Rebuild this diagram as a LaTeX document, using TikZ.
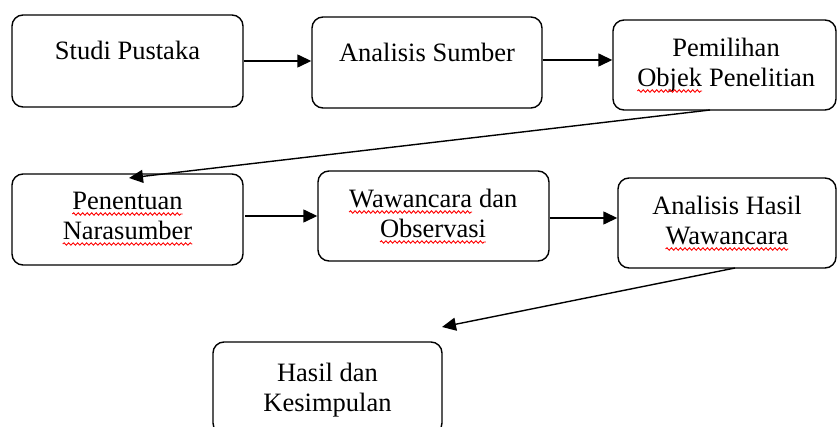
\documentclass[tikz,border=0pt]{standalone}
\usepackage{fontspec}
\setmainfont{Liberation Serif}
\usetikzlibrary{arrows.meta,decorations.pathmorphing}
\newcommand\spl[1]{\tikz[baseline=(sw.base)]{\node[inner sep=0pt,outer sep=0pt] (sw) {#1};
  \draw[red, line width=0.9pt, decorate, decoration={snake, amplitude=1.2pt, segment length=4.5pt}] ([yshift=-4pt]sw.base west) -- ([yshift=-4pt]sw.base east);}}
\tikzset{
  box/.style={draw, line width=1.4pt, rounded corners=11pt, inner sep=0pt},
  txt/.style={inner sep=0pt, anchor=base, font=\fontsize{26.5}{30}\selectfont},
  conn/.style={line width=1.4pt, -{Triangle[length=14pt,width=13pt]}}
}
\begin{document}
\begin{tikzpicture}[x=1pt,y=-1pt]
\clip (0,0) rectangle (838,427);
% boxes
\node[box, minimum width=231, minimum height=92] (b1) at (127.5,61) {};
\node[box, minimum width=230, minimum height=91] (b2) at (427,62.5) {};
\node[box, minimum width=223, minimum height=90] (b3) at (724.5,65) {};
\node[box, minimum width=231, minimum height=91] (b4) at (127.5,219.5) {};
\node[box, minimum width=231, minimum height=90] (b5) at (433.5,216) {};
\node[box, minimum width=218, minimum height=90] (b6) at (727,223) {};
\node[box, minimum width=229, minimum height=92] (b7) at (327.5,388) {};
% texts
\node[txt] (t1) at (127.5,60) {Studi Pustaka};
\node[txt] (t2) at (427,62) {Analisis Sumber};
\node[txt] (t3a) at (726,57) {Pemilihan};
\node[txt] (t3b) at (726,87) {\spl{Objek} Penelitian};
\node[txt] (t4a) at (127.5,210) {\spl{Penentuan}};
\node[txt] (t4b) at (127.5,240) {\spl{Narasumber}};
\node[txt] (t5a) at (433,208) {\spl{Wawancara} dan};
\node[txt] (t5b) at (433,238) {\spl{Observasi}};
\node[txt] (t6a) at (727,215) {Analisis Hasil};
\node[txt] (t6b) at (727,245) {\spl{Wawancara}};
\node[txt] (t7a) at (327.5,382) {Hasil dan};
\node[txt] (t7b) at (327.5,412) {Kesimpulan};
% connector end points
\coordinate (s3) at (710,110);
\coordinate (e3) at (129,178);
\coordinate (s6) at (735,268);
\coordinate (e6) at (442,327);
\coordinate (s4) at (245,216);
% connectors
\draw[conn] (b1.east |- 0,61) -- (b2.west |- 0,61);
\draw[conn] (b2.east |- 0,60) -- (b3.west |- 0,60);
\draw[conn] (s3) -- (e3);
\draw[conn] (s4) -- (b5.west |- s4);
\draw[conn] (b5.east |- 0,218) -- (b6.west |- 0,218);
\draw[conn] (s6) -- (e6);
\end{tikzpicture}
\end{document}
